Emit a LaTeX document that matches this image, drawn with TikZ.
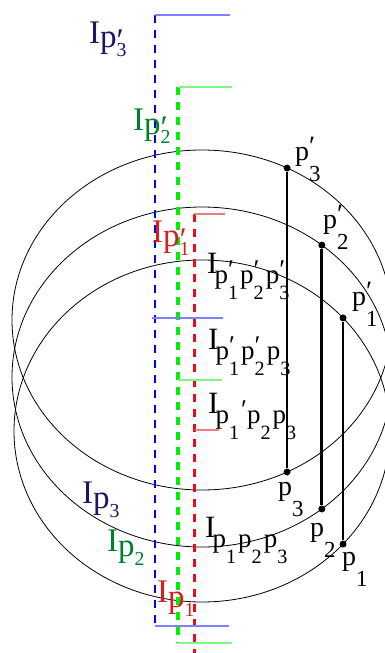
\documentclass[tikz,border=0pt]{standalone}
\usepackage{fontspec}
\setmainfont{Liberation Serif}
\usepackage{graphicx}

\definecolor{ipnavy}{HTML}{1E1464}
\definecolor{ipgreen}{HTML}{00802B}
\definecolor{ipred}{HTML}{D42020}
\definecolor{dblue}{HTML}{0000FF}
\definecolor{dgreen}{HTML}{00EE00}
\definecolor{dred}{HTML}{E01020}

% p with a stacked mark (prime) and digit
\newcommand{\pr}{\symbol{"2032}}
\newcommand{\pd}[2]{p\rlap{\raisebox{\pup}{\scalebox{\pps}{#2}}}\raisebox{-\pdn}{\scalebox{\psc}{#1}}}
\newcommand{\lowp}[1]{\kern-3pt\raisebox{-10pt}{\fontsize{27}{27}\selectfont#1}}

\begin{document}
\begin{tikzpicture}[
  x=1pt, y=-1pt,
  orbit/.style={draw,line width=0.8pt},
  interval/.style={#1,line width=2.7pt,dash pattern=on 8pt off 7pt},
  limit/.style={#1,line width=1.6pt},
  chord/.style={line width=2.8pt},
  pdot/.style={circle,fill,inner sep=0pt,minimum size=7pt},
  clab/.style={anchor=base west,inner sep=0pt,text=#1,font=\fontsize{33}{33}\selectfont\def\psc{.6}\def\pps{1}\def\pup{-4pt}\def\pdn{9pt}},
  blab/.style={anchor=base west,inner sep=0pt,font=\fontsize{31}{31}\selectfont\def\psc{.75}\def\pps{1}\def\pup{5pt}\def\pdn{16pt}},
  plab/.style={anchor=base west,inner sep=0pt,font=\fontsize{28}{28}\selectfont\def\psc{.82}\def\pps{1}\def\pup{5pt}\def\pdn{21pt}},
]
\clip (0,0) rectangle (385,653);

% === Orbits ===
\coordinate (c1) at (202,320);
\coordinate (c2) at (202,377);
\coordinate (c3) at (202,431);
\draw[orbit] (c1) ellipse (190 and 170);
\draw[orbit] (c2) ellipse (190 and 170);
\draw[orbit] (c3) ellipse (188 and 171);

% === Intervals (dashed) ===
\coordinate (b3top) at (155,15);  \coordinate (b3mid) at (152,318); \coordinate (b3bot) at (155,626);
\coordinate (g2top) at (178,87);  \coordinate (g2mid) at (178,380); \coordinate (g2bot) at (178,643);
\coordinate (r1top) at (194,214); \coordinate (r1mid) at (195,430); \coordinate (r1bot) at (194,660);

\draw[interval=dblue] (b3top) -- (b3bot);
\draw[interval=dgreen,line width=3.4pt] (g2top) -- (g2bot);
\draw[interval=dred,line width=3pt] (r1top) -- (r1bot);

\draw[limit=dblue!50] (b3top) -- ++(75,0);
\draw[limit=dblue!50] (b3mid) -- ++(71,0);
\draw[limit=dblue!50] (b3bot) -- ++(74,0);
\draw[limit=dgreen!50] (g2top) -- ++(54,0);
\draw[limit=dgreen!50] (g2mid) -- ++(44,0);
\draw[limit=dgreen!50] (g2bot) -- ++(54,0);
\draw[limit=dred!55] (r1top) -- ++(31,0);
\draw[limit=dred!55] (r1mid) -- ++(24,0);

% === Points and chords ===
\path (c1) +(-63.4:190 and 170) node[pdot] (p3t) {} +(63.4:190 and 170) node[pdot] (p3b) {};
\path (c2) +(-50.9:190 and 170) node[pdot] (p2t) {} +(50.9:190 and 170) node[pdot] (p2b) {};
\path (c3) +(-41.4:188 and 171) node[pdot] (p1t) {} +(41.4:188 and 171) node[pdot] (p1b) {};
\draw[chord,line width=2.2pt] (p3t) -- (p3b);
\draw[chord] (p2t) -- (p2b);
\draw[chord] (p1t) -- (p1b);

\node[plab] (lp3t) at (295,160) {\pd{3}{\pr}};
\node[plab] (lp2t) at (323,228) {\pd{2}{\pr}};
\node[plab] (lp1t) at (352,305) {\pd{1}{\pr}};
\node[plab] (lp3b) at (278,495) {\pd{3}{}};
\node[plab] (lp2b) at (310,536) {\pd{2}{}};
\node[plab] (lp1b) at (342,565) {\pd{1}{}};

% === Interval labels ===
\node[clab=ipnavy]  (ip3t) at (89,43)   {I\raisebox{-4pt}{\pd{3}{\pr}}};
\node[clab=ipgreen] (ip2t) at (133,130) {I\raisebox{-4pt}{\pd{2}{\pr}}};
\node[clab=ipred]   (ip1t) at (152,242) {I\raisebox{-4pt}{\pd{1}{\pr}}};
\node[clab=ipnavy]  (ip3b) at (82,503)  {I\raisebox{-5pt}{\pd{3}{}}};
\node[clab=ipgreen] (ip2b) at (107,551) {I\raisebox{-5pt}{\pd{2}{}}};
\node[clab=ipred]   (ip1b) at (157,602) {I\raisebox{-5pt}{\pd{1}{}}};

\node[blab] (Ittt) at (207,273) {I\lowp{\pd{1}{\pr}\kern2pt\pd{2}{\pr}\kern2pt\pd{3}{\pr}}};
\node[blab] (Ittb) at (208,349) {I\lowp{\pd{1}{\pr}\kern2pt\pd{2}{\pr}\kern2pt\pd{3}{}}};
\node[blab] (Ibtb) at (208,413) {I\lowp{\pd{1}{}\kern2pt\raisebox{5pt}{\pr}\pd{2}{}\kern2pt\pd{3}{}}};
\node[blab] (Ibbb) at (205,537) {I\lowp{\pd{1}{}\kern2pt\pd{2}{}\kern2pt\pd{3}{}}};

\end{tikzpicture}
\end{document}
